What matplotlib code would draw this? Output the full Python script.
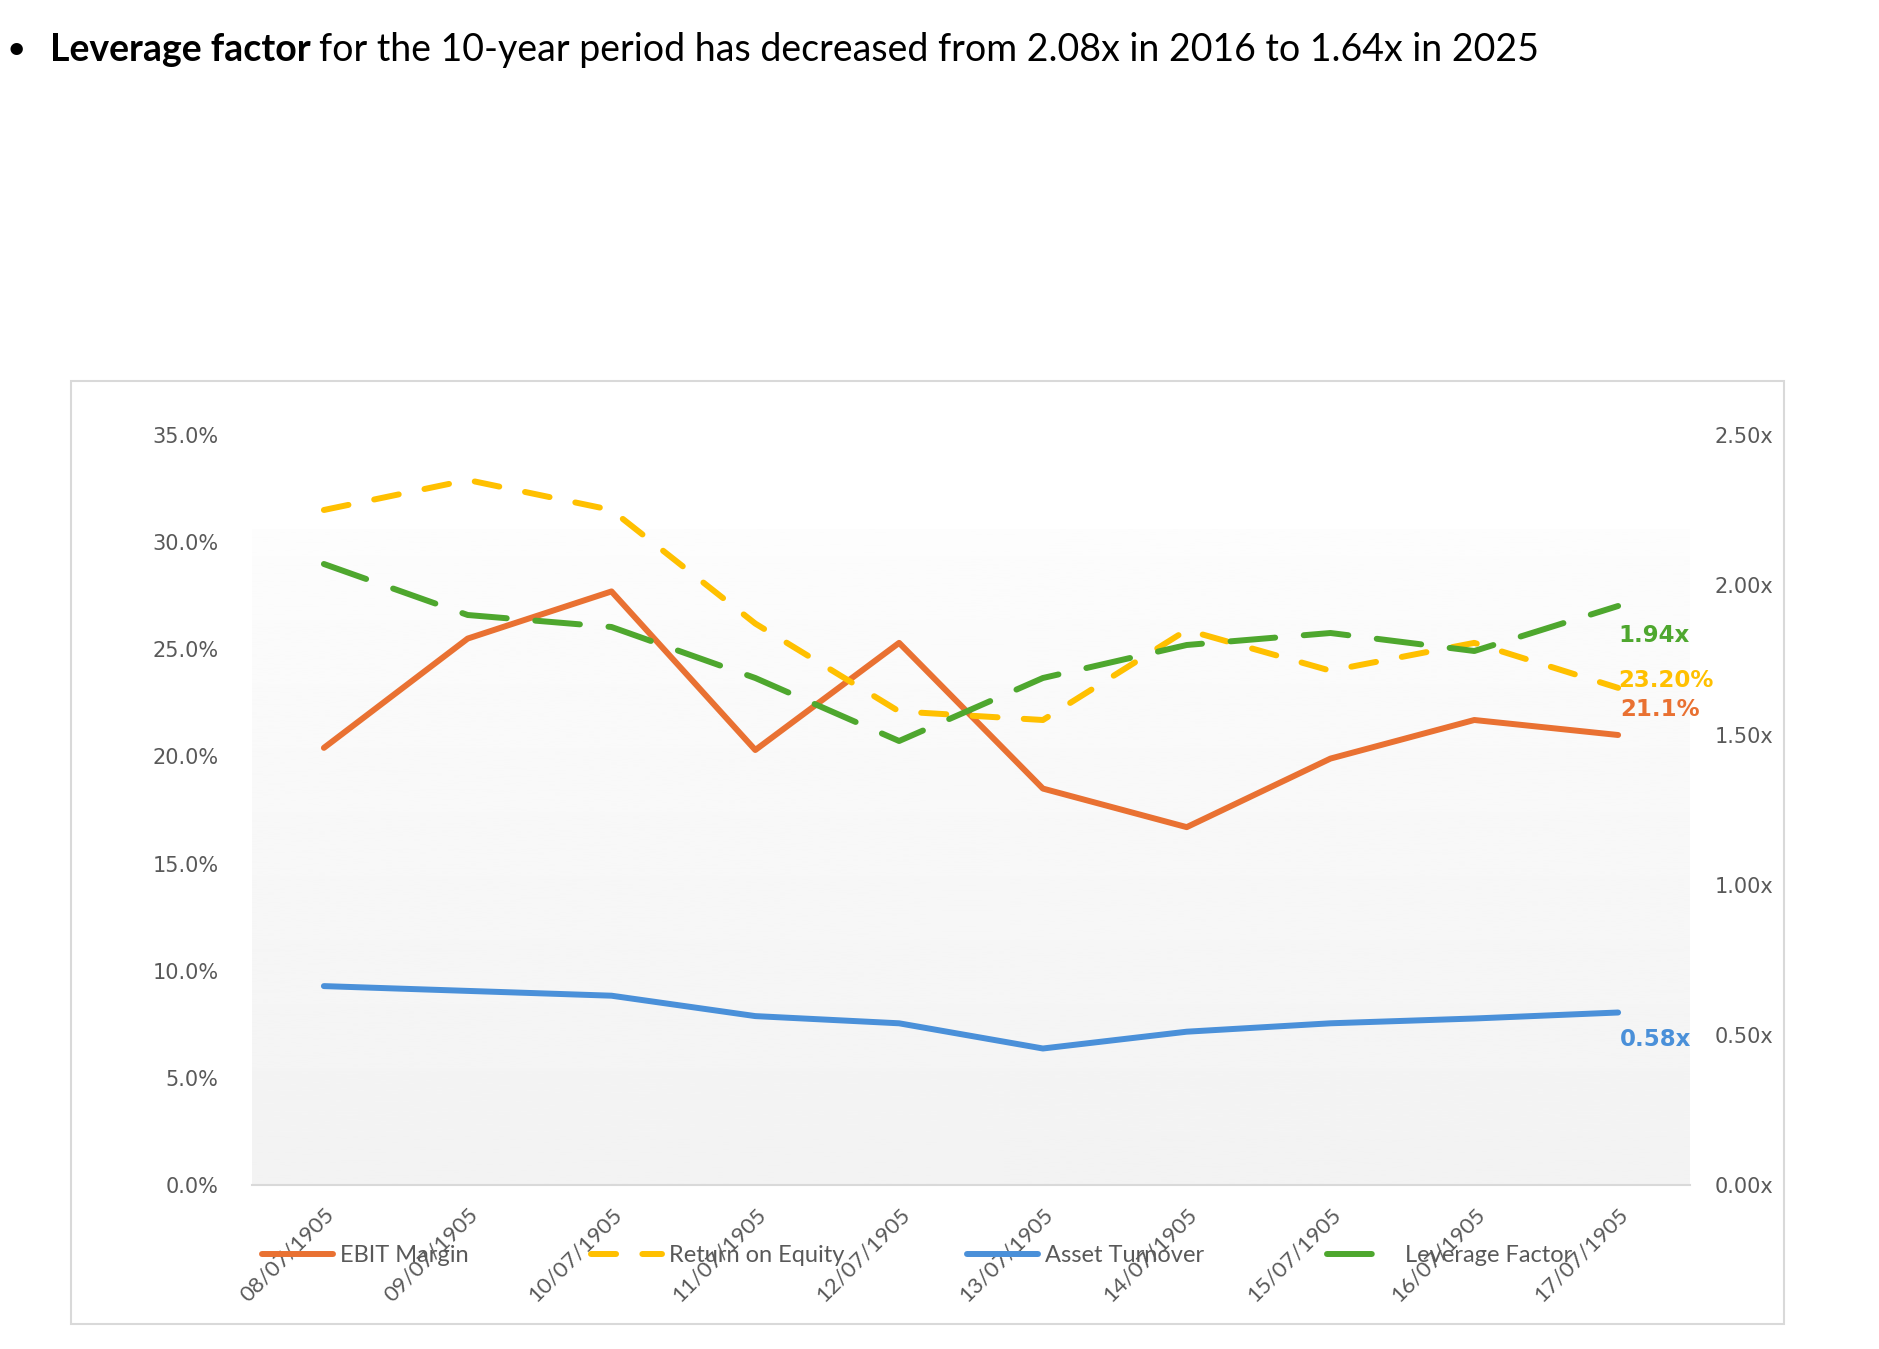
import numpy as np
import matplotlib
matplotlib.use("Agg")
import matplotlib.pyplot as plt
from matplotlib.patches import Rectangle

dates = ["08/07/1905", "09/07/1905", "10/07/1905", "11/07/1905", "12/07/1905",
         "13/07/1905", "14/07/1905", "15/07/1905", "16/07/1905", "17/07/1905"]
ebit_margin = [20.4, 25.5, 27.7, 20.3, 25.3, 18.5, 16.7, 19.9, 21.7, 21.0]
roe = [31.5, 32.9, 31.5, 26.2, 22.1, 21.7, 25.9, 24.0, 25.3, 23.2]
asset_turnover = [0.663, 0.647, 0.631, 0.563, 0.539, 0.455, 0.511, 0.539, 0.555, 0.575]
leverage = [2.07, 1.90, 1.86, 1.69, 1.48, 1.69, 1.80, 1.84, 1.78, 1.93]
end_labels = ["21.1%", "23.20%", "0.58x", "1.94x"]

ORANGE = "#E97132"
YELLOW = "#FFC000"
BLUE = "#4A90D9"
GREEN = "#4EA72E"
GREY = "#595959"
TXT = ["Lato", "DejaVu Sans"]

W, H = 1879, 1349
fig = plt.figure(figsize=(W / 100, H / 100), dpi=100)

# heading: bold lead-in, then the rest of the sentence
t1 = fig.text(50 / W, 1 - 50 / H, "Leverage factor", fontsize=27, fontweight="bold",
              family=TXT, va="center", ha="left")
fig.text(6 / W, 1 - 50 / H, "\u2022", fontsize=24, family=TXT, va="center", ha="left")
fig.canvas.draw()
bb = t1.get_window_extent()
fig.text(bb.x1 / W + 8 / W, 1 - 50 / H,
         "for the 10-year period has decreased from 2.08x in 2016 to 1.64x in 2025",
         fontsize=27, family=TXT, va="center", ha="left")

# chart frame
fig.patches.append(Rectangle((71 / W, 1 - 1324 / H), (1784 - 71) / W, (1324 - 381) / H,
                             transform=fig.transFigure, fill=False, edgecolor="#D9D9D9",
                             linewidth=1.5))

ax = fig.add_axes([252 / W, 1 - 1185 / H, 1438 / W, 750 / H])
ax2 = ax.twinx()
x = np.arange(len(dates))

ax.set_xlim(-0.5, len(dates) - 0.5)
ax.set_ylim(0, 35)
ax2.set_ylim(0, 2.5)

# gradient plot area
grad = np.linspace(0.95, 0.99, 256).reshape(-1, 1)
ax.imshow(grad, extent=(-0.5, len(dates) - 0.5, 0, 30.6), origin="lower", cmap="gray",
          vmin=0, vmax=1, aspect="auto", zorder=0)

ax.plot(x, ebit_margin, color=ORANGE, lw=4.3, solid_capstyle="round", solid_joinstyle="round",
        label="EBIT Margin", zorder=3)
ax.plot(x, roe, color=YELLOW, lw=4.3, linestyle=(0, (4.2, 4.4)), dash_capstyle="round",
        label="Return on Equity", zorder=3)
ax2.plot(x, asset_turnover, color=BLUE, lw=4.3, solid_capstyle="round", label="Asset Turnover")
ax2.plot(x, leverage, color=GREEN, lw=4.3, linestyle=(0, (7.5, 4.8)), dash_capstyle="round",
         label="Leverage Factor")

# end labels
last = len(dates) - 1
lab_font = dict(fontsize=16.5, fontweight="bold", ha="left", va="center", family="DejaVu Sans")
ax.annotate(end_labels[0], (last, ebit_margin[-1]), xytext=(2, 25), textcoords="offset pixels",
            color=ORANGE, **lab_font)
ax.annotate(end_labels[1], (last, roe[-1]), xytext=(0, 7), textcoords="offset pixels",
            color=YELLOW, **lab_font)
ax2.annotate(end_labels[2], (last, asset_turnover[-1]), xytext=(2, -27), textcoords="offset pixels",
             color=BLUE, **lab_font)
ax2.annotate(end_labels[3], (last, leverage[-1]), xytext=(0, -30), textcoords="offset pixels",
             color=GREEN, **lab_font)

ax.set_yticks(np.arange(0, 36, 5))
ax.set_yticklabels([f"{v:.1f}%" for v in np.arange(0, 36, 5)])
ax2.set_yticks(np.arange(0, 2.51, 0.5))
ax2.set_yticklabels([f"{v:.2f}x" for v in np.arange(0, 2.51, 0.5)])
ax.set_xticks(x)
ax.set_xticklabels(dates, rotation=45, ha="right", rotation_mode="anchor", family=TXT,
                   fontsize=16, color=GREY)

for a in (ax, ax2):
    for s in a.spines.values():
        s.set_visible(False)
    a.tick_params(length=0)
ax.spines["bottom"].set_visible(True)
ax.spines["bottom"].set_color("#D9D9D9")
ax.spines["bottom"].set_linewidth(1.5)
ax.tick_params(axis="x", pad=14)
ax.tick_params(axis="y", labelsize=15, labelcolor=GREY, pad=24)
ax2.tick_params(axis="y", labelsize=15, labelcolor=GREY, pad=18)
for lbl in ax.get_yticklabels() + ax2.get_yticklabels():
    lbl.set_family("DejaVu Sans")
ax.patch.set_visible(False)
ax2.patch.set_visible(False)

h1, l1 = ax.get_legend_handles_labels()
h2, l2 = ax2.get_legend_handles_labels()
fig.legend(h1 + h2, l1 + l2, loc="center", bbox_to_anchor=(0.488, 1 - 1256 / H), ncol=4,
           frameon=False, prop={"family": TXT, "size": 17}, labelcolor=GREY,
           handlelength=3.0, handletextpad=0.3, columnspacing=5.2)

fig.savefig("out.png", dpi=100, facecolor="white")
